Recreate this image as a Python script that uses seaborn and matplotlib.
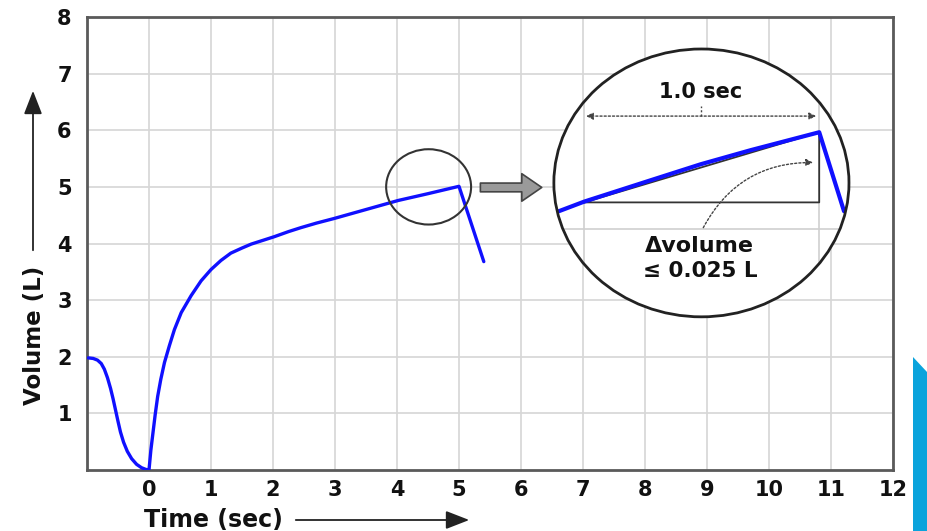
import numpy as np
import matplotlib
matplotlib.use("Agg")
import matplotlib.pyplot as plt
import seaborn as sns
from matplotlib.patches import Ellipse, Polygon, FancyArrowPatch

# main volume-time trace
time_sec = [-0.98, -0.90, -0.83, -0.77, -0.72, -0.67, -0.62, -0.58, -0.54, -0.50,
            -0.46, -0.41, -0.35, -0.28, -0.20, -0.12, -0.05, 0.0,
            0.03, 0.06, 0.10, 0.14, 0.19, 0.25, 0.33, 0.41, 0.52, 0.68, 0.84,
            1.0, 1.16, 1.32, 1.5, 1.65, 1.85, 2.02, 2.25, 2.45, 2.7, 2.98,
            3.5, 4.02, 4.5, 5.0, 5.4]
volume_l = [1.98, 1.97, 1.94, 1.88, 1.78, 1.63, 1.44, 1.26, 1.06, 0.86,
            0.67, 0.49, 0.33, 0.20, 0.10, 0.04, 0.01, 0.0,
            0.35, 0.62, 0.98, 1.30, 1.60, 1.90, 2.20, 2.48, 2.78, 3.08, 3.34,
            3.54, 3.70, 3.83, 3.92, 3.99, 4.06, 4.12, 4.21, 4.28, 4.36, 4.44,
            4.60, 4.76, 4.88, 5.01, 3.68]

# magnified view (drawn inside the big circle)
inset_time = [6.61, 7.02, 8.10, 8.90, 9.71, 10.81, 11.21]
inset_volume = [4.57, 4.74, 5.12, 5.40, 5.65, 5.965, 4.57]
tri_time = [7.02, 10.81, 10.81, 7.02]
tri_volume = [4.726, 4.726, 5.965, 4.726]
inset_grid_x = [7.02, 10.81]
inset_grid_y = [4.25]

x_ticks = list(range(0, 13))
y_ticks = list(range(1, 9))

sns.set_theme(style="whitegrid")
plt.rcParams["font.family"] = ["DejaVu Sans"]
plt.rcParams["font.weight"] = "bold"

fig = plt.figure(figsize=(9.27, 5.31), dpi=100)
ax = fig.add_axes([87 / 927, 1 - 470 / 531, 806 / 927, 453 / 531])
ax.set_facecolor("white")

blue = "#1010ff"
grid_c = "#d6d6d6"
sns.lineplot(x=time_sec, y=volume_l, sort=False, estimator=None,
             color=blue, lw=2.4, ax=ax, zorder=4)

ax.set_xlim(-1, 12)
ax.set_ylim(0, 8)
ax.set_xticks(x_ticks)
ax.set_yticks(y_ticks)
ax.grid(True, color=grid_c, lw=1.2)
ax.tick_params(length=0, labelsize=15, colors="#111111")
ax.tick_params(axis="x", pad=7)
ax.tick_params(axis="y", pad=11)
for lab in ax.get_xticklabels() + ax.get_yticklabels():
    lab.set_fontweight("bold")
for sp in ax.spines.values():
    sp.set_color("#5a5a5a")
    sp.set_linewidth(2)
ax.set_xlabel("")
ax.set_ylabel("")

# small circle around the end of the first second
ax.add_patch(Ellipse((4.51, 5.0), 1.37, 1.33, fill=False, ec="#333333", lw=1.5, zorder=5))

# gray block arrow pointing to the magnified view
ax.annotate("", xy=(6.38, 4.99), xytext=(5.3, 4.99),
            arrowprops=dict(arrowstyle="simple,head_length=0.8,head_width=1.1,tail_width=0.35",
                            mutation_scale=18, fc="#9a9a9a", ec="#444444", lw=1.2),
            zorder=5)

# big magnifier circle (white inside, with its own faint grid)
cx, cy = 8.91, 5.07
rw, rh = 4.76 / 2, 4.73 / 2
ax.add_patch(Ellipse((cx, cy), 2 * rw, 2 * rh, fc="white", ec="none", zorder=3))
for xv in inset_grid_x:
    half = rh * np.sqrt(1 - ((xv - cx) / rw) ** 2)
    ax.plot([xv, xv], [cy - half, cy + half], color="#cfcfcf", lw=1.2, zorder=3.1)
for yv in inset_grid_y:
    half = rw * np.sqrt(1 - ((yv - cy) / rh) ** 2)
    ax.plot([cx - half, cx + half], [yv, yv], color="#cfcfcf", lw=1.2, zorder=3.1)
ax.add_patch(Ellipse((cx, cy), 2 * rw, 2 * rh, fill=False, ec="#222222", lw=2, zorder=5))

ax.plot(tri_time, tri_volume, color="#333333", lw=1.3, zorder=3.5)
ax.plot(inset_time, inset_volume, color=blue, lw=3, zorder=4)

# 1.0 sec dimension
ax.annotate("", xy=(7.05, 6.25), xytext=(10.76, 6.25),
            arrowprops=dict(arrowstyle="<|-|>", linestyle=(0, (1.5, 1.5)), color="#444444",
                            lw=1, mutation_scale=10, shrinkA=0, shrinkB=0), zorder=4)
ax.plot([8.9, 8.9], [6.25, 6.42], color="#444444", lw=1, ls=(0, (1.5, 1.5)), zorder=4)
ax.text(8.9, 6.67, "1.0 sec", ha="center", va="center", fontsize=15,
        fontweight="bold", color="#111111", zorder=6)

# delta-volume callout
ax.annotate("", xy=(10.71, 5.43), xytext=(8.94, 4.28),
            arrowprops=dict(arrowstyle="-|>", linestyle=(0, (1.5, 1.5)), color="#444444",
                            lw=1, mutation_scale=10, shrinkA=0, shrinkB=0,
                            connectionstyle="arc3,rad=-0.3"), zorder=4)
ax.text(8.87, 3.95, "\u0394volume", ha="center", va="center", fontsize=16,
        fontweight="bold", color="#111111", zorder=6)
ax.text(8.9, 3.52, "\u2264 0.025 L", ha="center", va="center", fontsize=15.5,
        fontweight="bold", color="#111111", zorder=6)

# axis titles with arrows
W, H = 927, 531
fig.text(35 / W, 1 - 335 / H, "Volume (L)", rotation=90, ha="center", va="center",
         fontsize=16.5, fontweight="bold", color="#111111")
fig.text(213 / W, 1 - 520 / H, "Time (sec)", ha="center", va="center",
         fontsize=17, fontweight="bold", color="#111111")
fig.patches.append(FancyArrowPatch(
    (33 / W, 1 - 253 / H), (33 / W, 1 - 88 / H), transform=fig.transFigure,
    arrowstyle="-|>,head_length=0.9,head_width=0.35", mutation_scale=16,
    color="#222222", lw=1.3))
fig.patches.append(FancyArrowPatch(
    (293 / W, 1 - 520 / H), (472 / W, 1 - 520 / H), transform=fig.transFigure,
    arrowstyle="-|>,head_length=0.9,head_width=0.35", mutation_scale=16,
    color="#222222", lw=1.3))

# corner logo strip
fig.patches.append(Polygon([(913 / W, 1 - 357 / H), (927 / W, 1 - 372 / H),
                            (927 / W, 0), (913 / W, 0)], closed=True,
                           transform=fig.transFigure, fc="#0aa3dc", ec="none"))

fig.savefig("out.png", dpi=100)
